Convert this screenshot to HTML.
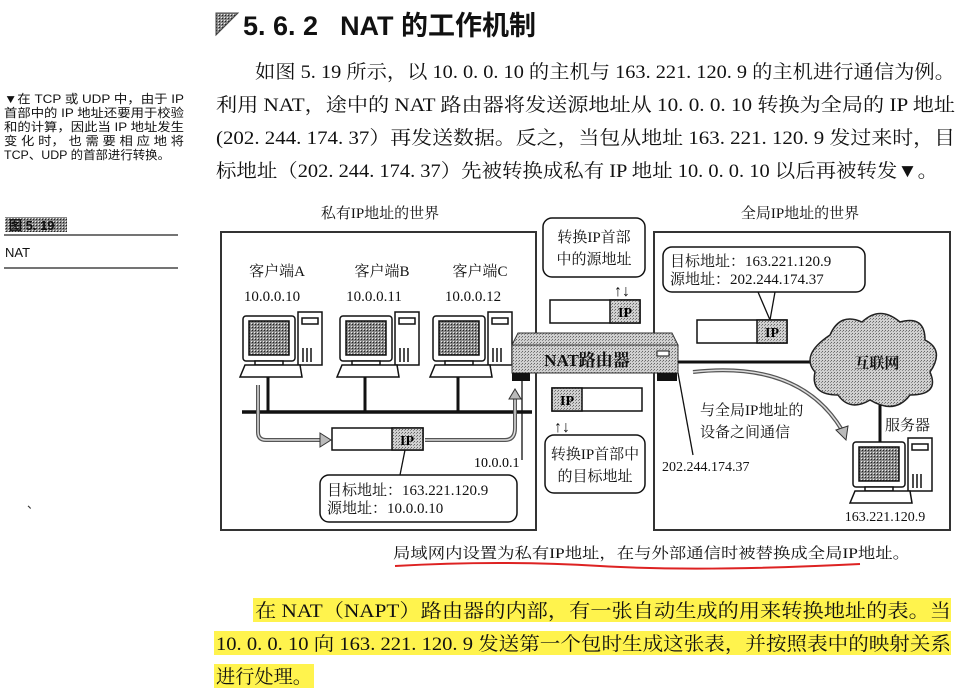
<!DOCTYPE html>
<html><head><meta charset="utf-8"><style>
html,body{margin:0;padding:0;background:#fff;}
svg{display:block}
.s{font-family:"Liberation Serif","Noto Serif CJK SC",serif;}
.a{font-family:"Liberation Sans","Noto Sans CJK SC",sans-serif;}
</style></head><body>
<svg width="976" height="689" viewBox="0 0 976 689" xmlns="http://www.w3.org/2000/svg">
<defs>
<pattern id="g" width="3" height="3" patternUnits="userSpaceOnUse"><rect width="3" height="3" fill="#d0d0d0"/><rect width="1" height="1" fill="#666"/><rect x="2" y="1" width="1" height="1" fill="#888"/></pattern>
<pattern id="d" width="3" height="3" patternUnits="userSpaceOnUse"><rect width="3" height="3" fill="#888"/><rect width="1" height="1" fill="#222"/><rect x="2" y="2" width="1" height="1" fill="#eee"/></pattern>
<g id="pc" stroke="#111" stroke-width="1.5">
<rect x="298" y="312" width="24" height="53" fill="#fff"/>
<rect x="302" y="318" width="16" height="6" fill="#fff"/>
<line x1="303" y1="348" x2="303" y2="362"/><line x1="307" y1="348" x2="307" y2="362"/><line x1="311" y1="348" x2="311" y2="362"/>
<rect x="243" y="316" width="52" height="45" rx="3" fill="#fff"/>
<rect x="249" y="321" width="40" height="34" fill="url(#d)"/>
<rect x="255" y="361" width="28" height="4" fill="#fff"/>
<polygon points="245,365 300,365 302,377 240,377" fill="#fff"/>
</g>
</defs>
<!-- title -->
<polygon points="216,13 238,13 216,35" fill="url(#d)" stroke="#444"/>
<text x="243" y="35" class="a" font-size="27" font-weight="bold" fill="#111">5. 6. 2<tspan dx="22">NAT 的工作机制</tspan></text>
<!-- paragraph -->
<g class="s" font-size="19" fill="#111">
<text x="255" y="78" textLength="700" lengthAdjust="spacingAndGlyphs">如图 5. 19 所示，以 10. 0. 0. 10 的主机与 163. 221. 120. 9 的主机进行通信为例。</text>
<text x="216" y="111" textLength="739" lengthAdjust="spacingAndGlyphs">利用 NAT，途中的 NAT 路由器将发送源地址从 10. 0. 0. 10 转换为全局的 IP 地址</text>
<text x="216" y="144" textLength="739" lengthAdjust="spacingAndGlyphs">(202. 244. 174. 37）再发送数据。反之，当包从地址 163. 221. 120. 9 发过来时，目</text>
<text x="216" y="177" textLength="722" lengthAdjust="spacingAndGlyphs">标地址（202. 244. 174. 37）先被转换成私有 IP 地址 10. 0. 0. 10 以后再被转发▼。</text>
</g>
<!-- side note -->
<g class="a" font-size="12" fill="#111">
<text x="4" y="103" textLength="180" lengthAdjust="spacingAndGlyphs">▼在 TCP 或 UDP 中，由于 IP</text>
<text x="4" y="117" textLength="180" lengthAdjust="spacingAndGlyphs">首部中的 IP 地址还要用于校验</text>
<text x="4" y="131" textLength="180" lengthAdjust="spacingAndGlyphs">和的计算，因此当 IP 地址发生</text>
<text x="4" y="145" textLength="180" lengthAdjust="spacingAndGlyphs">变 化 时， 也 需 要 相 应 地 将</text>
<text x="4" y="159" textLength="166" lengthAdjust="spacingAndGlyphs">TCP、UDP 的首部进行转换。</text>
</g>
<rect x="5" y="217" width="62" height="15" fill="url(#d)"/>
<text x="9" y="230" class="a" font-size="13" font-weight="bold" fill="#111">图 5. 19</text>
<line x1="4" y1="235" x2="178" y2="235" stroke="#222" stroke-width="1.2"/>
<text x="5" y="257" class="a" font-size="13" fill="#111">NAT</text>
<line x1="4" y1="268" x2="178" y2="268" stroke="#222" stroke-width="1.2"/>
<text x="27" y="508" font-size="12" fill="#333">、</text>

<!-- diagram -->
<g class="s" fill="#111" font-size="15">
<text x="380" y="218" text-anchor="middle">私有IP地址的世界</text>
<text x="800" y="218" text-anchor="middle">全局IP地址的世界</text>
</g>
<rect x="221" y="232" width="315" height="298" fill="none" stroke="#333" stroke-width="2"/>
<rect x="654" y="232" width="296" height="298" fill="none" stroke="#333" stroke-width="2"/>

<g class="s" font-size="15" fill="#111">
<text x="277" y="276" text-anchor="middle">客户端A</text>
<text x="382" y="276" text-anchor="middle">客户端B</text>
<text x="480" y="276" text-anchor="middle">客户端C</text>
<text x="272" y="301" text-anchor="middle">10.0.0.10</text>
<text x="374" y="301" text-anchor="middle">10.0.0.11</text>
<text x="473" y="301" text-anchor="middle">10.0.0.12</text>
</g>

<use href="#pc"/>
<use href="#pc" x="97"/>
<use href="#pc" x="190"/>
<g stroke="#111" stroke-width="3">
<line x1="268" y1="377" x2="268" y2="412"/>
<line x1="365" y1="377" x2="365" y2="412"/>
<line x1="458" y1="377" x2="458" y2="412"/>
</g>
<line x1="242" y1="412" x2="532" y2="412" stroke="#111" stroke-width="3.5"/>

<!-- hatched arrows -->
<path d="M258,385 V432 Q258,440 266,440 H322" fill="none" stroke="#555" stroke-width="4"/>
<path d="M258,385 V432 Q258,440 266,440 H322" fill="none" stroke="#ddd" stroke-width="1.5"/>
<polygon points="320,433 331,440 320,447" fill="#bbb" stroke="#333"/>
<path d="M425,440 H505 Q515,440 515,428 V397" fill="none" stroke="#555" stroke-width="4"/>
<path d="M425,440 H505 Q515,440 515,428 V397" fill="none" stroke="#ddd" stroke-width="1.5"/>
<polygon points="509,399 515,389 521,399" fill="#bbb" stroke="#333"/>

<rect x="332" y="428" width="91" height="22" fill="#fff" stroke="#111" stroke-width="1.5"/>
<rect x="392" y="428" width="31" height="22" fill="url(#g)" stroke="#111" stroke-width="1.5"/>
<text x="407" y="445" text-anchor="middle" class="s" font-size="14" font-weight="bold">IP</text>

<line x1="522" y1="460" x2="522" y2="380" stroke="#111" stroke-width="1.3"/>
<text x="474" y="467" class="s" font-size="14">10.0.0.1</text>

<path d="M405,450 L400,475" stroke="#111" fill="none" stroke-width="1.3"/>
<rect x="320" y="475" width="197" height="47" rx="9" fill="#fff" stroke="#111" stroke-width="1.5"/>
<g class="s" font-size="15" fill="#111">
<text x="327" y="495">目标地址：163.221.120.9</text>
<text x="327" y="513">源地址：10.0.0.10</text>
</g>

<!-- router -->
<polygon points="512,345 518,333 672,333 678,345" fill="url(#g)" stroke="#333"/>
<rect x="512" y="345" width="166" height="28" fill="url(#g)" stroke="#333"/>
<rect x="512" y="373" width="18" height="8" fill="#111"/>
<rect x="657" y="373" width="20" height="8" fill="#111"/>
<rect x="657" y="351" width="12" height="5" fill="#fff" stroke="#111"/>
<text x="587" y="366" text-anchor="middle" class="s" font-size="17" font-weight="bold" fill="#111">NAT路由器</text>

<!-- middle callouts -->
<rect x="543" y="218" width="102" height="59" rx="9" fill="#fff" stroke="#111" stroke-width="1.5"/>
<g class="s" font-size="15" fill="#111">
<text x="594" y="242" text-anchor="middle">转换IP首部</text>
<text x="594" y="264" text-anchor="middle">中的源地址</text>
<text x="595" y="459" text-anchor="middle">转换IP首部中</text>
<text x="595" y="481" text-anchor="middle">的目标地址</text>
</g>
<rect x="545" y="435" width="100" height="58" rx="9" fill="none" stroke="#111" stroke-width="1.5"/>
<text x="614" y="296" font-size="16" font-weight="bold" fill="#111">↑↓</text>
<text x="554" y="432" font-size="16" font-weight="bold" fill="#111">↑↓</text>
<rect x="550" y="300" width="90" height="23" fill="#fff" stroke="#111" stroke-width="1.5"/>
<rect x="610" y="300" width="30" height="23" fill="url(#g)" stroke="#111" stroke-width="1.5"/>
<text x="625" y="317" text-anchor="middle" class="s" font-size="14" font-weight="bold">IP</text>
<rect x="552" y="388" width="90" height="23" fill="#fff" stroke="#111" stroke-width="1.5"/>
<rect x="552" y="388" width="30" height="23" fill="url(#g)" stroke="#111" stroke-width="1.5"/>
<text x="567" y="405" text-anchor="middle" class="s" font-size="14" font-weight="bold">IP</text>

<!-- right world -->
<rect x="663" y="247" width="202" height="45" rx="9" fill="#fff" stroke="#111" stroke-width="1.5"/>
<g class="s" font-size="15" fill="#111">
<text x="670" y="266">目标地址：163.221.120.9</text>
<text x="670" y="284">源地址：202.244.174.37</text>
</g>
<path d="M758,292 L770,320 M775,292 L770,320" stroke="#111" fill="none" stroke-width="1.3"/>
<rect x="697" y="320" width="90" height="23" fill="#fff" stroke="#111" stroke-width="1.5"/>
<rect x="757" y="320" width="30" height="23" fill="url(#g)" stroke="#111" stroke-width="1.5"/>
<text x="772" y="337" text-anchor="middle" class="s" font-size="14" font-weight="bold">IP</text>

<line x1="678" y1="362" x2="815" y2="362" stroke="#111" stroke-width="3"/>
<path d="M830,335 Q840,312 862,322 Q880,305 900,322 Q925,315 925,340 Q945,350 930,372 Q940,395 910,395 Q895,415 870,400 Q850,412 838,395 Q810,395 815,372 Q800,355 830,335 Z" fill="url(#g)" stroke="#222" stroke-width="1.5"/>
<text x="877" y="368" text-anchor="middle" class="s" font-size="15" font-weight="bold" fill="#111">互联网</text>
<line x1="880" y1="405" x2="880" y2="445" stroke="#111" stroke-width="3"/>
<text x="885" y="430" class="s" font-size="15" fill="#111">服务器</text>
<use href="#pc" x="610" y="126"/>
<text x="885" y="521" text-anchor="middle" class="s" font-size="14" fill="#111">163.221.120.9</text>

<path d="M693,372 Q800,360 842,430" fill="none" stroke="#555" stroke-width="4"/>
<path d="M693,372 Q800,360 842,430" fill="none" stroke="#ddd" stroke-width="1.5"/>
<polygon points="836,430 846,440 848,426" fill="#bbb" stroke="#333"/>
<g class="s" font-size="15" fill="#111">
<text x="700" y="415">与全局IP地址的</text>
<text x="700" y="437">设备之间通信</text>
</g>
<line x1="693" y1="455" x2="678" y2="373" stroke="#111" stroke-width="1.3"/>
<text x="662" y="471" class="s" font-size="14" fill="#111">202.244.174.37</text>

<!-- caption -->
<text x="393" y="558" class="s" font-size="15" fill="#111" textLength="517" lengthAdjust="spacingAndGlyphs">局域网内设置为私有IP地址，在与外部通信时被替换成全局IP地址。</text>
<path d="M395,566 Q500,560 600,566 T860,564" fill="none" stroke="#d22" stroke-width="2"/>

<!-- bottom paragraph -->
<rect x="253" y="598" width="698" height="24" fill="#fff34d"/>
<rect x="214" y="631" width="737" height="24" fill="#fff34d"/>
<rect x="214" y="664" width="100" height="24" fill="#fff34d"/>
<g class="s" font-size="19" fill="#111">
<text x="255" y="617" textLength="696" lengthAdjust="spacingAndGlyphs">在 NAT（NAPT）路由器的内部，有一张自动生成的用来转换地址的表。当</text>
<text x="216" y="650" textLength="735" lengthAdjust="spacingAndGlyphs">10. 0. 0. 10 向 163. 221. 120. 9 发送第一个包时生成这张表，并按照表中的映射关系</text>
<text x="216" y="683" textLength="96" lengthAdjust="spacingAndGlyphs">进行处理。</text>
</g>
</svg>
</body></html>
